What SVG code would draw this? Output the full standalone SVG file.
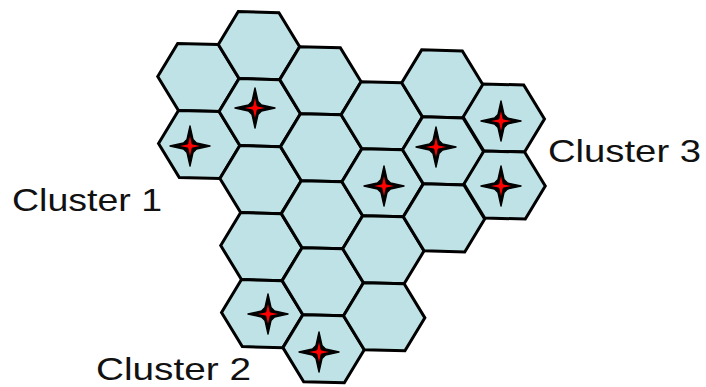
<svg xmlns="http://www.w3.org/2000/svg" xmlns:xlink="http://www.w3.org/1999/xlink" width="706" height="387" viewBox="0 0 706 387">
<style>
.cell{fill:#BEE2E6;stroke:#000;stroke-width:3;stroke-linejoin:miter}
.lbl{font-family:"Liberation Sans",Arial,sans-serif;font-size:32px;fill:#111}
</style>
<defs>
<polygon id="hex" class="cell" points="-40.67,-1.07 -20.73,-34.03 19.93,-32.97 40.67,1.07 20.73,34.03 -19.93,32.97"/>
<g id="star">
<path d="M0,-20 L3,-6.5 L6.5,-3 L20,0 L6.5,3 L3,6.5 L0,20 L-3,6.5 L-6.5,3 L-20,0 L-6.5,-3 L-3,-6.5Z" fill="#000" stroke="#000" stroke-width="1.4" stroke-linejoin="round"/>
<path d="M0,-10 L1.6,-2.4 L2.4,-1.6 L10,0 L2.4,1.6 L1.6,2.4 L0,10 L-1.6,2.4 L-2.4,1.6 L-10,0 L-2.4,-1.6 L-1.6,-2.4Z" fill="#FF0000"/>
</g>
</defs>
<g id="cells">
<g id="hex-a1"><use href="#hex" transform="translate(198.4,77.5)"/></g>
<g id="hex-a3"><use href="#hex" transform="translate(199.2,144.5)"/><use href="#star" transform="translate(190,146)"/></g>
<g id="hex-b0"><use href="#hex" transform="translate(259,45.6)"/></g>
<g id="hex-b2"><use href="#hex" transform="translate(259.8,112.6)"/><use href="#star" transform="translate(255,108)"/></g>
<g id="hex-b4"><use href="#hex" transform="translate(260.6,179.6)"/></g>
<g id="hex-b6"><use href="#hex" transform="translate(261.4,246.6)"/></g>
<g id="hex-b8"><use href="#hex" transform="translate(262.2,313.6)"/><use href="#star" transform="translate(268,314)"/></g>
<g id="hex-c1"><use href="#hex" transform="translate(320.4,80.7)"/></g>
<g id="hex-c3"><use href="#hex" transform="translate(321.2,147.7)"/></g>
<g id="hex-c5"><use href="#hex" transform="translate(322,214.7)"/></g>
<g id="hex-c7"><use href="#hex" transform="translate(322.8,281.7)"/></g>
<g id="hex-c9"><use href="#hex" transform="translate(323.6,348.7)"/><use href="#star" transform="translate(319,352)"/></g>
<g id="hex-d2"><use href="#hex" transform="translate(381.8,115.8)"/></g>
<g id="hex-d4"><use href="#hex" transform="translate(382.6,182.8)"/><use href="#star" transform="translate(384,186)"/></g>
<g id="hex-d6"><use href="#hex" transform="translate(383.4,249.8)"/></g>
<g id="hex-d8"><use href="#hex" transform="translate(384.2,316.8)"/></g>
<g id="hex-e1"><use href="#hex" transform="translate(442.4,83.9)"/></g>
<g id="hex-e3"><use href="#hex" transform="translate(443.2,150.9)"/><use href="#star" transform="translate(436,147)"/></g>
<g id="hex-e5"><use href="#hex" transform="translate(444,217.9)"/></g>
<g id="hex-f2"><use href="#hex" transform="translate(503.8,118)"/><use href="#star" transform="translate(501,121)"/></g>
<g id="hex-f4"><use href="#hex" transform="translate(504.6,185)"/><use href="#star" transform="translate(501,186)"/></g>
</g>
<g id="labels">
<text id="label-cluster1" class="lbl" x="12" y="211" textLength="150" lengthAdjust="spacingAndGlyphs">Cluster 1</text>
<text id="label-cluster2" class="lbl" x="96" y="380" textLength="155" lengthAdjust="spacingAndGlyphs">Cluster 2</text>
<text id="label-cluster3" class="lbl" x="548" y="162" textLength="153" lengthAdjust="spacingAndGlyphs">Cluster 3</text>
</g>
</svg>
